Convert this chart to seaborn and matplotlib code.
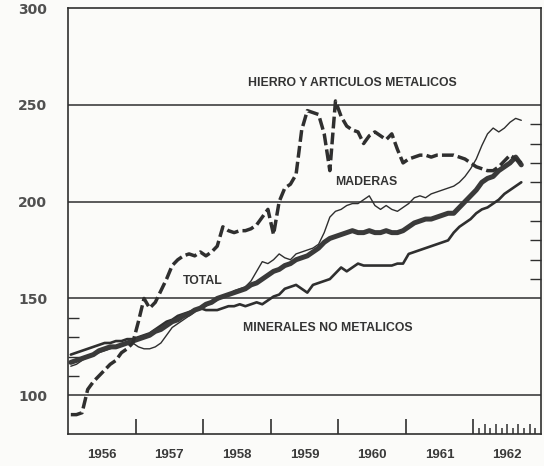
import numpy as np
import pandas as pd
import seaborn as sns
import matplotlib
matplotlib.use("Agg")
import matplotlib.pyplot as plt
from matplotlib.ticker import FixedLocator, NullFormatter

# ---------------- data (monthly index values, Jan 1956 - Sep 1962) ----------------
months = pd.date_range("1956-01-01", periods=81, freq="MS")

hierro = [90, 90, 91, 103, 107, 110, 113, 116, 118, 122, 124, 127,
          138, 150, 145, 148, 154, 160, 167, 170, 172, 173, 172, 174,
          172, 174, 177, 187, 185, 184, 185, 185, 186, 188, 192, 196,
          183, 200, 207, 209, 214, 237, 247, 246, 245, 235, 216, 252,
          244, 239, 237, 236, 230, 234, 236, 234, 232, 235, 227, 220,
          222, 223, 224, 224, 223, 224, 224, 224, 224, 223, 222, 220,
          218, 217, 216, 216, 218, 221, 224, 222, 220]

maderas = [115, 116, 118, 120, 121, 122, 123, 124, 125, 126, 127, 127,
           125, 124, 124, 125, 127, 131, 135, 137, 139, 141, 143, 145,
           146, 148, 149, 151, 152, 154, 155, 156, 159, 164, 169, 168,
           170, 173, 171, 170, 173, 174, 175, 176, 178, 184, 192, 195,
           196, 198, 199, 199, 201, 203, 198, 196, 198, 196, 195, 197,
           199, 202, 203, 202, 204, 205, 206, 207, 208, 210, 213, 217,
           222, 229, 235, 238, 236, 238, 241, 243, 242]

total = [117, 118, 119, 120, 121, 123, 124, 125, 125, 126, 127, 128,
         129, 130, 131, 133, 134, 136, 138, 139, 141, 142, 144, 145,
         147, 148, 150, 151, 152, 153, 154, 155, 157, 158, 160, 162,
         164, 165, 167, 168, 170, 171, 172, 174, 176, 179, 181, 182,
         183, 184, 185, 184, 184, 185, 184, 184, 185, 184, 184, 185,
         187, 189, 190, 191, 191, 192, 193, 194, 194, 197, 200, 203,
         206, 210, 212, 213, 216, 218, 220, 223, 219]

minerales = [121, 122, 123, 124, 125, 126, 127, 127, 128, 128, 129, 129,
             130, 131, 132, 134, 136, 138, 139, 141, 142, 143, 144, 145,
             144, 144, 144, 145, 146, 146, 147, 146, 147, 148, 147, 149,
             151, 152, 155, 156, 157, 155, 153, 157, 158, 159, 160, 163,
             166, 164, 166, 168, 167, 167, 167, 167, 167, 167, 168, 168,
             173, 174, 175, 176, 177, 178, 179, 180, 184, 187, 189, 191,
             194, 196, 197, 199, 201, 204, 206, 208, 210]

year_labels = ["1956", "1957", "1958", "1959", "1960", "1961", "1962"]
y_labels = ["100", "150", "200", "250", "300"]

label_hierro = "HIERRO Y ARTICULOS METALICOS"
label_maderas = "MADERAS"
label_total = "TOTAL"
label_minerales = "MINERALES NO METALICOS"

# ---------------- build frame ----------------
dec_year = months.year + (months.month - 0.5) / 12.0
df = pd.DataFrame({"t": dec_year, "hierro": hierro, "maderas": maderas,
                   "total": total, "minerales": minerales})

INK = "#2f2f2f"
PAPER = "#fbfbf9"
NARROW = ["Liberation Sans", "DejaVu Sans"]

sns.set_theme(style="white")
plt.rcParams["font.family"] = ["DejaVu Sans"]

fig = plt.figure(figsize=(5.44, 4.66), dpi=100, facecolor=PAPER)
ax = fig.add_axes([0.125, 1 - 434 / 466, 0.8695, (434 - 8) / 466])
ax.set_facecolor(PAPER)

# grid lines (horizontal)
for v in [100, 150, 200, 250]:
    ax.axhline(v, color=INK, lw=1.1, zorder=1)

sns.lineplot(data=df, x="t", y="minerales", ax=ax, color=INK, lw=1.9, zorder=3)
sns.lineplot(data=df, x="t", y="maderas", ax=ax, color=INK, lw=1.0, zorder=3)
sns.lineplot(data=df, x="t", y="total", ax=ax, color="#3a3a3a", lw=3.6, zorder=4)
sns.lineplot(data=df, x="t", y="hierro", ax=ax, color=INK, lw=2.5,
             linestyle=(0, (3.4, 1.2)), zorder=5)

ax.set_xlim(1956, 1963)
ax.set_ylim(80, 300)
ax.set_xlabel("")
ax.set_ylabel("")

for s in ax.spines.values():
    s.set_visible(True)
    s.set_color(INK)
    s.set_linewidth(1.2)

# x axis: labels at year centres, tick marks at year boundaries + months of 1962
ax.xaxis.remove_overlapping_locs = False
ax.set_xticks([1956.5 + k for k in range(len(year_labels))])
ax.set_xticklabels(year_labels, fontsize=9.5, color="#3a3a3a",
                   family=NARROW, fontweight="bold")
ax.tick_params(axis="x", which="major", length=0, pad=11)
boundaries = [1957, 1958, 1959, 1960, 1961, 1962]
month_ticks = [1962 + k / 12 for k in range(1, 12)]
ax.xaxis.set_minor_locator(FixedLocator(boundaries + month_ticks))
ax.xaxis.set_minor_formatter(NullFormatter())
ax.tick_params(axis="x", which="minor", direction="in", length=11, width=1.2,
               color=INK, bottom=True, top=False)
minor_locs = ax.xaxis.get_minorticklocs()
for tick, loc in zip(ax.xaxis.get_minor_ticks(), minor_locs):
    if loc > 1962.01:
        k = int(round((loc - 1962) * 12))
        tick.tick1line.set_markersize(7 if k % 2 == 0 else 4.5)
        tick.tick1line.set_markeredgewidth(1.1)

# y axis
ax.set_yticks([100, 150, 200, 250, 300])
ax.set_yticklabels(y_labels, fontsize=10, color="#505050", fontweight="bold")
ax.tick_params(axis="y", which="major", length=0, pad=15, left=True)
ax.yaxis.set_minor_locator(FixedLocator([110, 120, 130, 140]))
ax.tick_params(axis="y", which="minor", direction="in", length=8, width=1.0,
               color=INK, left=True, right=False)
secy = ax.secondary_yaxis("right")
secy.spines["right"].set_visible(False)
secy.set_yticks([160, 170, 180, 190, 210, 220, 230, 240])
secy.set_yticklabels([])
secy.tick_params(axis="y", direction="in", length=8, width=1.0, color=INK)

# series labels
lab_kw = dict(fontsize=8.8, color="#333333", fontweight="bold",
              family=NARROW, ha="center", va="center", zorder=6)
ax.text(1960.21, 261.5, label_hierro, **lab_kw)
ax.text(1960.42, 210.3, label_maderas, **lab_kw)
ax.text(1957.99, 159.0, label_total, **lab_kw)
ax.text(1959.84, 134.9, label_minerales, **lab_kw)

fig.savefig("out.png", dpi=100, facecolor=PAPER)
